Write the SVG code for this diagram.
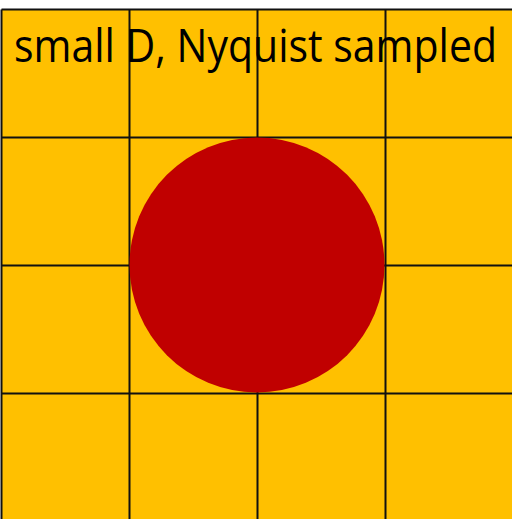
<svg xmlns="http://www.w3.org/2000/svg" width="512" height="519" viewBox="0 0 512 519">
<style>
.grid line{stroke:#111;stroke-width:2}
.lbl{font-family:"Open Sans","Liberation Sans",sans-serif;font-size:46px;fill:#000}
</style>
<rect x="0" y="0" width="512" height="519" fill="#ffffff"/>
<rect x="1.5" y="9.5" width="520" height="520" fill="#FFC000"/>
<g class="grid">
<line x1="1.5" y1="9.5" x2="512" y2="9.5"/>
<line x1="1.5" y1="137.5" x2="512" y2="137.5"/>
<line x1="1.5" y1="265.5" x2="512" y2="265.5"/>
<line x1="1.5" y1="393.5" x2="512" y2="393.5"/>
<line x1="1.5" y1="9.5" x2="1.5" y2="519"/>
<line x1="129.5" y1="9.5" x2="129.5" y2="519"/>
<line x1="257.5" y1="9.5" x2="257.5" y2="519"/>
<line x1="385.5" y1="9.5" x2="385.5" y2="519"/>
</g>
<g id="circle">
<circle cx="257" cy="265" r="127.5" fill="#C00000"/>
</g>
<g id="title">
<text class="lbl" x="14" y="62" textLength="483" lengthAdjust="spacingAndGlyphs">small D, Nyquist sampled</text>
</g>
</svg>
